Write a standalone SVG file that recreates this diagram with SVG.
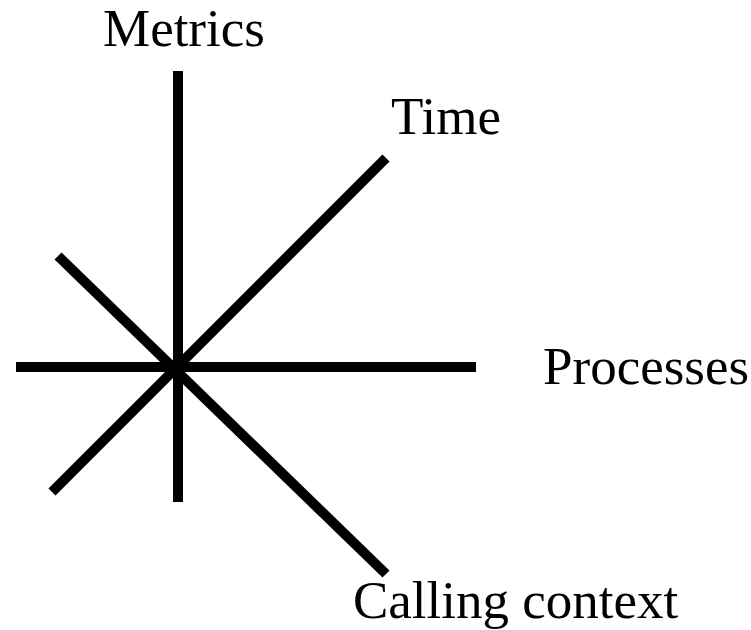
<svg xmlns="http://www.w3.org/2000/svg" width="751" height="630" viewBox="0 0 751 630">
<style>
.ax{stroke:#000;stroke-width:10;fill:none;stroke-linecap:butt}
.lb{font-family:"Liberation Serif","Times New Roman",serif;font-size:53px;fill:#000}
</style>
<rect width="751" height="630" fill="#fff"/>
<g id="connectors">
<line class="ax" x1="178" y1="71" x2="178" y2="502"/>
<line class="ax" x1="16" y1="367" x2="476" y2="367"/>
<line class="ax" x1="52" y1="492" x2="386" y2="158"/>
<line class="ax" x1="58" y1="256" x2="386" y2="574"/>
</g>
<g id="metrics"><text class="lb" x="103" y="46">Metrics</text></g>
<g id="time"><text class="lb" x="391" y="134">Time</text></g>
<g id="processes"><text class="lb" x="543" y="384">Processes</text></g>
<g id="calling"><text class="lb" x="353" y="618">Calling context</text></g>
</svg>
